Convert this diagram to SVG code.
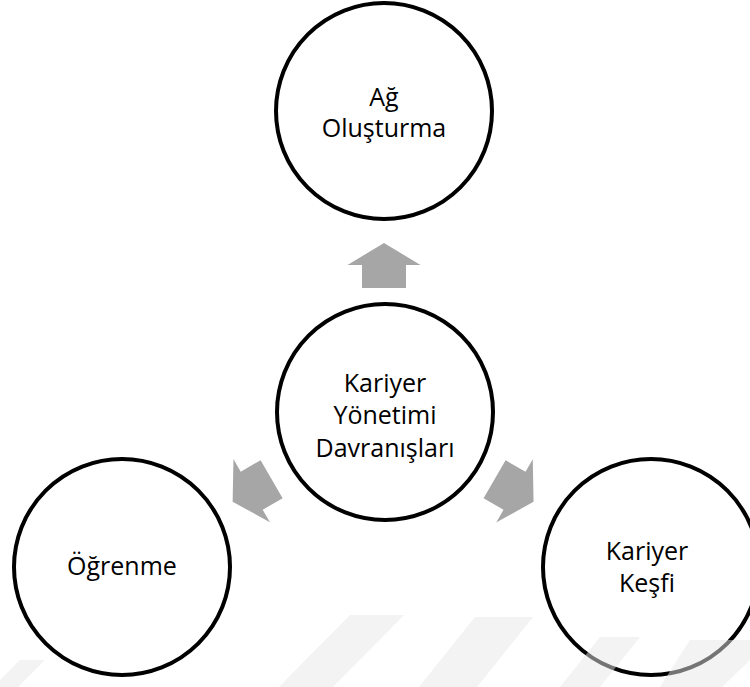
<svg xmlns="http://www.w3.org/2000/svg" width="750" height="687" viewBox="0 0 750 687">
<defs>
<style>
.node circle{fill:#ffffff;stroke:#000000;stroke-width:4}
.node text{font-family:"Open Sans","Noto Sans","Liberation Sans",sans-serif;font-size:25px;fill:#000000;text-anchor:middle}
.arrow{fill:#a6a6a6}
.wm{fill:#e8e8e8;opacity:0.5}
</style>
<path id="arr" d="M0,-22 L36.5,0 L22,0 L22,23 L-22,23 L-22,0 L-36.5,0 Z"/>
</defs>
<rect width="750" height="687" fill="#ffffff"/>
<g id="node-top" class="node">
<circle cx="384" cy="111" r="108"/>
<text x="384" y="106">Ağ</text>
<text x="384" y="137">Oluşturma</text>
</g>
<g id="node-center" class="node">
<circle cx="385" cy="412" r="108"/>
<text x="385" y="392">Kariyer</text>
<text x="385" y="424">Yönetimi</text>
<text x="385" y="457">Davranışları</text>
</g>
<g id="node-left" class="node">
<circle cx="122" cy="567" r="108"/>
<text x="122" y="575">Öğrenme</text>
</g>
<g id="node-right" class="node">
<circle cx="651" cy="567" r="108"/>
<text x="647" y="560">Kariyer</text>
<text x="647" y="592">Keşfi</text>
</g>
<g id="connectors" class="arrow">
<use href="#arr" transform="translate(384,265)"/>
<use href="#arr" transform="translate(251.7,490.7) rotate(-120)"/>
<use href="#arr" transform="translate(514.5,490.8) rotate(120)"/>
</g>
<g id="watermark" class="wm">
<polygon points="350,615 404,615 333,687 279,687"/>
<polygon points="475,617 533,617 477,687 419,687"/>
<polygon points="20,660 45,660 18,687 0,687 0,680"/>
<polygon points="600,637 640,637 600,687 560,687"/>
<polygon points="690,640 750,640 750,660 722,687 660,687"/>
</g>
</svg>
